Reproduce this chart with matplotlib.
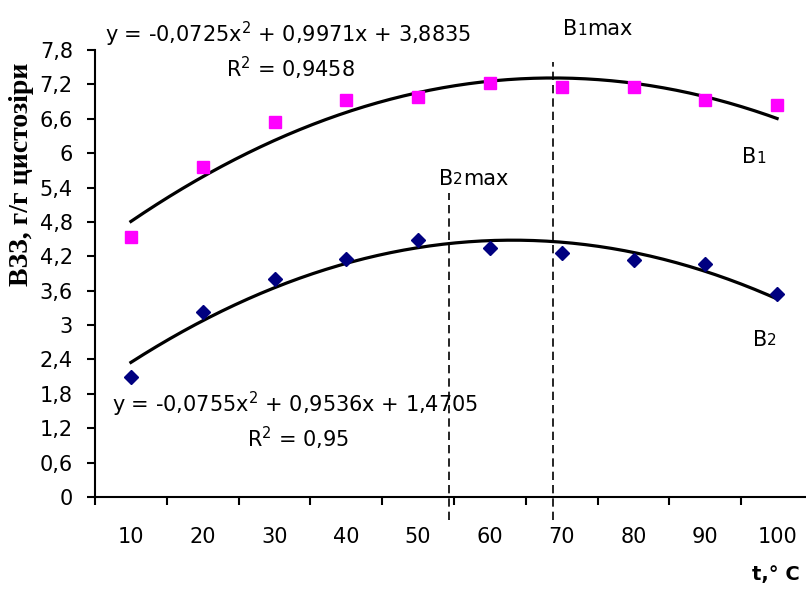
import matplotlib
matplotlib.use('Agg')
import matplotlib.pyplot as plt
import numpy as np

plt.rcParams['font.family'] = ['DejaVu Sans']
plt.rcParams['mathtext.fontset'] = 'dejavusans'
plt.rcParams['lines.scale_dashes'] = False

# ---- data ----
categories = [10, 20, 30, 40, 50, 60, 70, 80, 90, 100]
b1_values = [4.53, 5.76, 6.55, 6.92, 6.98, 7.23, 7.15, 7.15, 6.92, 6.84]
b2_values = [2.10, 3.22, 3.81, 4.15, 4.48, 4.34, 4.25, 4.13, 4.06, 3.55]
b1_coef = [-0.0725, 0.9971, 3.8835]
b2_coef = [-0.0755, 0.9536, 1.4705]
y_ticks = [0, 0.6, 1.2, 1.8, 2.4, 3.0, 3.6, 4.2, 4.8, 5.4, 6.0, 6.6, 7.2, 7.8]
b1_max_x = 6.88
b2_max_x = 5.43

W, H = 806, 591
fig = plt.figure(figsize=(W / 100, H / 100), dpi=100)
ax = fig.add_axes([95 / W, 94 / H, 718 / W, 447 / H])

pos = np.arange(1, len(categories) + 1)
xs = np.linspace(1, len(categories), 200)
ax.plot(xs, np.polyval(b1_coef, xs), color='black', lw=2.3, zorder=2)
ax.plot(xs, np.polyval(b2_coef, xs), color='black', lw=2.3, zorder=2)
ax.plot(pos, b1_values, 's', color='#FF00FF', ms=9.2, mec='#FF00FF', zorder=3, clip_on=False)
ax.plot(pos, b2_values, 'D', color='#000080', ms=6.8, mec='#000080', zorder=3, clip_on=False)

# dashed max lines
ax.plot([b1_max_x, b1_max_x], [-0.40, 7.59], color='black', lw=1.2,
        dashes=(6, 3.6), clip_on=False, zorder=1)
ax.plot([b2_max_x, b2_max_x], [-0.40, 5.30], color='black', lw=1.2,
        dashes=(6, 3.6), clip_on=False, zorder=1)

ax.set_xlim(0.5, len(categories) + 0.5)
ax.set_ylim(0, 7.8)
for s in ['top', 'right']:
    ax.spines[s].set_visible(False)
for s in ['left', 'bottom']:
    ax.spines[s].set_linewidth(1.5)

ax.set_yticks(y_ticks)
ax.set_yticklabels([('%g' % v).replace('.', ',') for v in y_ticks])
ax.tick_params(axis='y', direction='out', length=6, width=1.5, pad=10, labelsize=15)

ax.set_xticks(np.arange(0.5, len(categories) + 1, 1))
ax.set_xticklabels([])
ax.tick_params(axis='x', which='major', direction='out', length=6, width=1.5)
ax.set_xticks(pos, minor=True)
ax.set_xticklabels([str(c) for c in categories], minor=True)
ax.tick_params(axis='x', which='minor', length=0, pad=21.5, labelsize=15)

# texts
tfs = 15
ax.text(0.639, 7.94, 'y = -0,0725x$^2$ + 0,9971x + 3,8835', fontsize=tfs, va='baseline', ha='left')
ax.text(2.32, 7.33, 'R$^2$ = 0,9458', fontsize=tfs, va='baseline', ha='left')
ax.text(0.737, 1.48, 'y = -0,0755x$^2$ + 0,9536x + 1,4705', fontsize=tfs, va='baseline', ha='left')
ax.text(2.617, 0.87, 'R$^2$ = 0,95', fontsize=tfs, va='baseline', ha='left')


def small_sub_label(x, y, big, small, rest, fs=15, sfs=11):
    t1 = ax.text(x, y, big, fontsize=fs, va='bottom', ha='left')
    t2 = ax.annotate(small, xy=(1, 0), xycoords=t1, xytext=(0, 0.9),
                     textcoords='offset points', fontsize=sfs, va='bottom', ha='left')
    if rest:
        ax.annotate(rest, xy=(1, 0), xycoords=t2, xytext=(0, -0.9),
                    textcoords='offset points', fontsize=fs, va='bottom', ha='left')


small_sub_label(7.018, 7.99, 'B', '1', 'max')
small_sub_label(5.29, 5.38, 'B', '2', 'max')
small_sub_label(9.51, 5.75, 'B', '1', '')
small_sub_label(9.66, 2.57, 'B', '2', '')

fig.text(22 / W, 1 - 174 / H, 'ВЗЗ, г/г цистозіри', rotation=90, ha='center', va='center',
         fontfamily='Liberation Serif', fontweight='bold', fontsize=20)
fig.text(800 / W, 1 - 580 / H, 't,° C', ha='right', va='baseline',
         fontweight='bold', fontsize=14)

fig.savefig('out.png', dpi=100)
